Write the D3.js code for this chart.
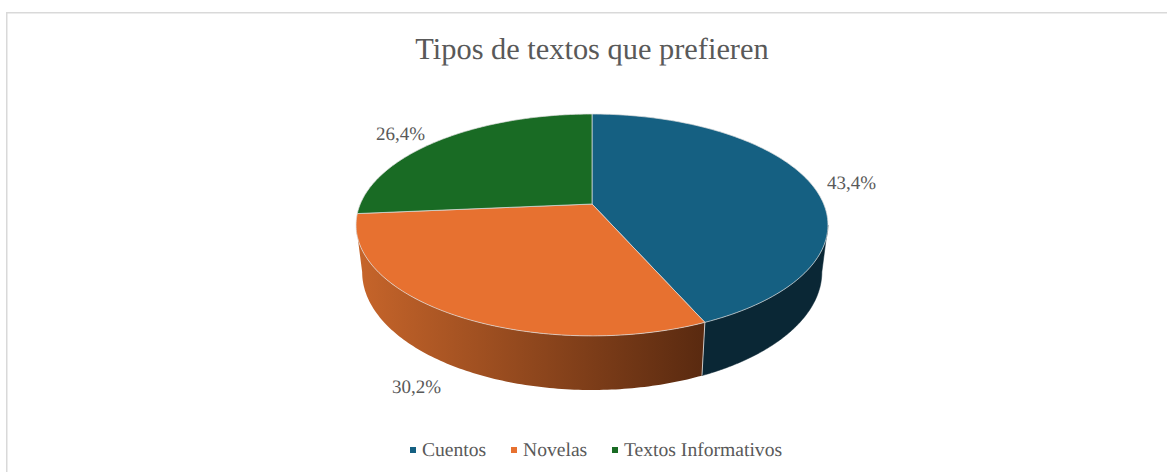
<!DOCTYPE html>
<html>
<head>
<meta charset="utf-8">
<script src="https://d3js.org/d3.v7.min.js"></script>
<style>html,body{margin:0;padding:0;background:#fff}svg{display:block}text{font-family:"Liberation Serif",serif;fill:#595959;text-rendering:geometricPrecision}</style>
</head>
<body>
<svg id="c" width="1167" height="472"></svg>
<script>
const categories = ["Cuentos", "Novelas", "Textos Informativos"];
const values = [43.4, 30.2, 26.4];
const labels = ["43,4%", "30,2%", "26,4%"];
const colors = ["#156082", "#E77130", "#196B24"];
const labelPos = [[851.5, 189], [416.5, 393], [400.5, 140]];
const legendX = [410, 511, 612];
const TAU = Math.PI * 2;

const svg = d3.select("#c");
svg.append("path").attr("d", "M6.75 472V12.75H1167").attr("fill", "none").attr("stroke", "#d9d9d9").attr("stroke-width", 1.5);

const defs = svg.append("defs");
const grad = defs.append("linearGradient").attr("id", "og").attr("gradientUnits", "userSpaceOnUse")
  .attr("x1", 362).attr("x2", 702).attr("y1", 0).attr("y2", 0);
grad.append("stop").attr("offset", 0).attr("stop-color", "#c5642a");
grad.append("stop").attr("offset", 1).attr("stop-color", "#5a2a10");

// perspective projection of the pie disc
const cx = 592, persp = -0.189;
const project = (theta, dx, ay, by) => {
  const u = Math.sin(theta), v = -Math.cos(theta), w = 1 + persp * v;
  return [cx + dx * u / w, (ay * v + by) / w];
};
const topP = t => project(t, 231.7, 68.4, 204);
const lowP = t => project(t, 225.7, 66.6, 249.7);
const samples = (a, b) => d3.range(0, 121).map(i => a + (b - a) * i / 120);
const line = d3.line();
const arcs = d3.pie().sort(null).startAngle(0).endAngle(TAU)(values);

// silhouette limits of the visible wall
const rightT = Math.acos(persp), leftT = TAU - rightT;
const sideFill = ["#0a2735", "url(#og)", "none"];
arcs.forEach((d, i) => {
  const a = Math.max(d.startAngle, rightT), b = Math.min(d.endAngle, leftT);
  if (b <= a) return;
  const s = samples(a, b);
  const pts = s.map(topP).concat(s.slice().reverse().map(lowP));
  svg.append("path").attr("d", line(pts) + "Z").attr("fill", sideFill[i])
    .attr("stroke", i === 0 ? "#0a2735" : "none").attr("stroke-width", 0.5);
});
// edge between the walls
const e = arcs[0].endAngle;
svg.append("path").attr("d", line([topP(e), lowP(e)])).attr("stroke", "#e8e8e8").attr("stroke-width", 0.8).attr("fill", "none");

// top face
arcs.forEach((d, i) => {
  const pts = [[cx, 204]].concat(samples(d.startAngle, d.endAngle).map(topP));
  svg.append("path").attr("d", line(pts) + "Z").attr("fill", colors[i])
    .attr("stroke", "#dedede").attr("stroke-width", 0.7).attr("stroke-linejoin", "round");
});

// title
svg.append("text").attr("x", 592).attr("y", 59).attr("text-anchor", "middle").attr("font-size", 30.4).text("Tipos de textos que prefieren");

// data labels
labels.forEach((t, i) => svg.append("text").attr("x", labelPos[i][0]).attr("y", labelPos[i][1])
  .attr("text-anchor", "middle").attr("font-size", 19).text(t));

// legend
categories.forEach((c, i) => {
  svg.append("rect").attr("x", legendX[i]).attr("y", 447).attr("width", 6).attr("height", 6).attr("fill", colors[i]);
  svg.append("text").attr("x", legendX[i] + 12).attr("y", 456).attr("font-size", 19.6).text(c);
});
</script>
</body>
</html>
